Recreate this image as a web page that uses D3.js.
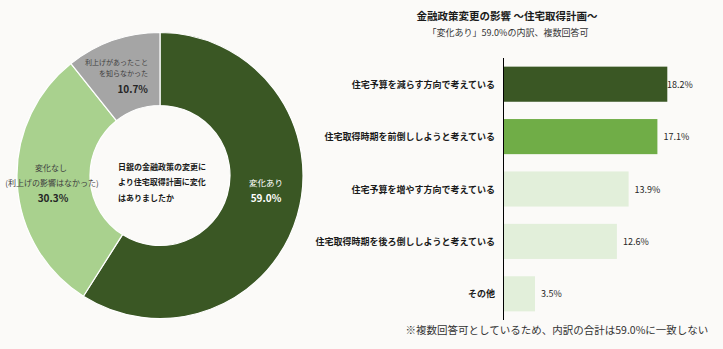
<!DOCTYPE html>
<html><head><meta charset="utf-8">
<script src="https://cdn.jsdelivr.net/npm/d3@7"></script>
<style>
html,body{margin:0;padding:0;background:#fbfaf8;}
text{font-family:"Noto Sans CJK JP","Noto Sans",sans-serif;}
</style></head>
<body><svg id="c" width="723" height="349"></svg>
<script>
const pieLabels = ["変化あり", "変化なし", "利上げがあったことを知らなかった"];
const pieValues = [59.0, 30.3, 10.7];
const pieColors = ["#3a5724", "#a9d18e", "#a5a5a5"];
const centerLines = ["日銀の金融政策の変更に", "より住宅取得計画に変化", "はありましたか"];

const barCategories = ["住宅予算を減らす方向で考えている", "住宅取得時期を前倒ししようと考えている", "住宅予算を増やす方向で考えている", "住宅取得時期を後ろ倒ししようと考えている", "その他"];
const barValues = [18.2, 17.1, 13.9, 12.6, 3.5];
const barColors = ["#3a5724", "#70ad47", "#e2efda", "#e2efda", "#e2efda"];

const title = "金融政策変更の影響 ～住宅取得計画～";
const subtitle = "「変化あり」59.0%の内訳、複数回答可";
const footnote = "※複数回答可としているため、内訳の合計は59.0%に一致しない";

const svg = d3.select("#c");
svg.append("rect").attr("width",723).attr("height",349).attr("fill","#fbfaf8");

// Donut
const cx = 160, cy = 175.5, R = 143, r = 70;
const pie = d3.pie().sort(null).value(d => d)(pieValues);
const arc = d3.arc().innerRadius(r).outerRadius(R);
const g = svg.append("g").attr("transform", `translate(${cx},${cy})`);
g.selectAll("path").data(pie).join("path")
  .attr("d", arc).attr("fill", (d,i) => pieColors[i])
  .attr("stroke", "#ffffff").attr("stroke-width", 1.2);

function txt(x, y, s, opt) {
  return svg.append("text").attr("x", x).attr("y", y).text(s)
    .attr("font-size", opt.size || 8.5).attr("font-weight", opt.bold ? "bold" : "normal")
    .attr("fill", opt.fill || "#404040").attr("text-anchor", opt.anchor || "middle")
    .attr("dominant-baseline", "central");
}
txt(266, 182, pieLabels[0], {fill:"#ffffff", size:8.5});
txt(266, 197, pieValues[0].toFixed(1) + "%", {fill:"#ffffff", bold:true, size:10});
txt(51, 167, pieLabels[1], {size:8});
txt(52, 182, "(利上げの影響はなかった)", {size:8});
txt(53, 197, pieValues[1].toFixed(1) + "%", {bold:true, size:10, fill:"#262626"});
txt(148, 62, "利上げがあったこと", {anchor:"end", size:7});
txt(148, 73, "を知らなかった", {anchor:"end", size:7});
txt(148, 88, pieValues[2].toFixed(1) + "%", {anchor:"end", bold:true, size:10, fill:"#262626"});
centerLines.forEach((s,i) => txt(118, 166 + i*15.5, s, {anchor:"start", bold:true, size:8, fill:"#1a1a1a"}));

// Bars
const x = d3.scaleLinear().domain([0, 20]).range([503.5, 503.5 + 9.0*20]);
const y = d3.scaleBand().domain(barCategories).range([58, 320]).paddingInner(0.33).paddingOuter(0.165);
svg.selectAll(".bar").data(barValues).join("rect").attr("class","bar")
  .attr("x", x(0)).attr("y", (d,i) => y(barCategories[i]))
  .attr("width", d => x(d) - x(0)).attr("height", y.bandwidth())
  .attr("fill", (d,i) => barColors[i]);
svg.append("line").attr("x1", x(0)).attr("x2", x(0)).attr("y1", 58).attr("y2", 320)
  .attr("stroke", "#000").attr("stroke-width", 1);
barCategories.forEach((c,i) => {
  txt(495, y(c) + y.bandwidth()/2, c, {anchor:"end", bold:true, size:9, fill:"#1a1a1a"});
  txt(Math.min(x(barValues[i]) + 6, 667), y(c) + y.bandwidth()/2, barValues[i].toFixed(1) + "%", {anchor:"start", size:9, fill:"#262626"});
});

txt(507, 15, title, {bold:true, size:10.5, fill:"#1a1a1a"});
txt(508, 32, subtitle, {size:9, fill:"#333"});
txt(557, 329, footnote, {size:10.5, fill:"#333"});
</script></body></html>
